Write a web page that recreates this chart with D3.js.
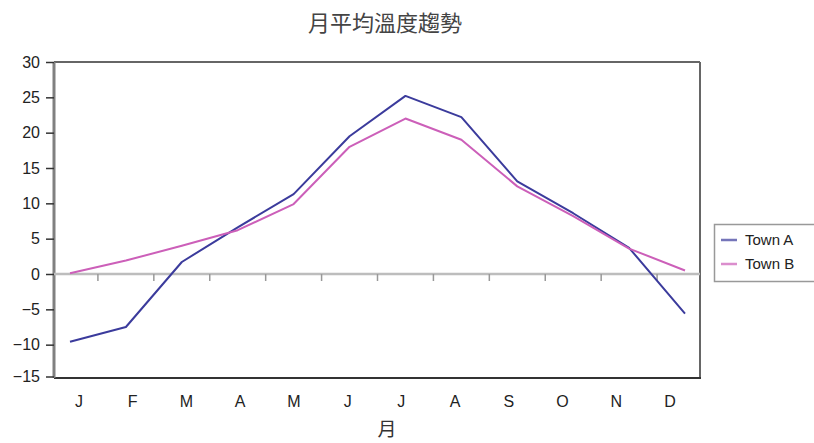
<!DOCTYPE html>
<html>
<head>
<meta charset="utf-8">
<script src="https://cdn.jsdelivr.net/npm/d3@7"></script>
<style>
  html, body { margin: 0; padding: 0; background: #fff; }
  svg { display: block; }
</style>
</head>
<body>
<svg id="chart" width="814" height="443"></svg>
<script>
const months = ["J","F","M","A","M","J","J","A","S","O","N","D"];
const monthKeys = ["Jan","Feb","Mar","Apr","May","Jun","Jul","Aug","Sep","Oct","Nov","Dec"];
const townA = [-9.6, -7.5, 1.7, 6.6, 11.3, 19.5, 25.2, 22.2, 13.1, 8.6, 3.7, -5.6];
const townB = [0.1, 1.9, 4.0, 6.2, 9.9, 18.0, 22.0, 19.0, 12.4, 8.2, 3.6, 0.5];
const yTicks = [30, 25, 20, 15, 10, 5, 0, -5, -10, -15];
const seriesNames = ["Town A", "Town B"];
const seriesColors = ["#3b3b9c", "#cc5fb9"];

const svg = d3.select("#chart");
const plotL = 54, plotR = 700, plotT = 62, plotB = 378;

const y = d3.scaleLinear().domain([-15, 30]).range([380, plotT]);
const x = d3.scalePoint().domain(monthKeys).range([70, 685]);
const xBand = d3.scaleBand().domain(monthKeys).range([42, 713]);
const xLabel = d3.scalePoint().domain(monthKeys).range([79, 670]);

// Title
svg.append("text")
  .attr("x", 385).attr("y", 31)
  .attr("text-anchor", "middle")
  .attr("font-family", "'Noto Sans CJK TC', 'Noto Sans CJK SC', sans-serif")
  .attr("font-size", 22)
  .attr("fill", "#444")
  .text("月平均溫度趨勢");

// Frame top & right
svg.append("line").attr("x1", plotL).attr("x2", plotR).attr("y1", plotT).attr("y2", plotT)
  .attr("stroke", "#333").attr("stroke-width", 1.5);
svg.append("line").attr("x1", plotR).attr("x2", plotR).attr("y1", plotT).attr("y2", plotB)
  .attr("stroke", "#666").attr("stroke-width", 2);
// bottom
svg.append("line").attr("x1", plotL).attr("x2", plotR + 1).attr("y1", plotB).attr("y2", plotB)
  .attr("stroke", "#333").attr("stroke-width", 2);

// Y axis
const yAxis = d3.axisLeft(y).tickValues(yTicks).tickSize(8).tickPadding(6).tickFormat(d3.format("d"));
const yg = svg.append("g").attr("transform", `translate(${plotL},0)`).call(yAxis);
yg.select(".domain").attr("stroke", "#808080").attr("stroke-width", 3)
  .attr("d", `M0,${plotT}V${plotB}`);
yg.selectAll(".tick line").attr("stroke", "#333").attr("stroke-width", 1.5);
yg.selectAll(".tick text")
  .attr("font-family", "'Liberation Sans', Arial, sans-serif")
  .attr("font-size", 16).attr("fill", "#222");
yg.selectAll(".tick").filter(d => d === -15).attr("transform", `translate(0,${plotB - 1})`);

// Zero line with category ticks
svg.append("line").attr("x1", plotL).attr("x2", plotR).attr("y1", y(0)).attr("y2", y(0))
  .attr("stroke", "#bdbdbd").attr("stroke-width", 2.5);
svg.append("g").selectAll("line")
  .data(monthKeys.slice(1))
  .join("line")
  .attr("x1", d => xBand(d)).attr("x2", d => xBand(d))
  .attr("y1", y(0)).attr("y2", y(0) + 7)
  .attr("stroke", "#999").attr("stroke-width", 1.5);

// X labels
svg.append("g").selectAll("text")
  .data(monthKeys)
  .join("text")
  .attr("x", d => xLabel(d)).attr("y", 407)
  .attr("text-anchor", "middle")
  .attr("font-family", "'Liberation Sans', Arial, sans-serif")
  .attr("font-size", 16).attr("fill", "#222")
  .text((d, i) => months[i]);

// X title
svg.append("text")
  .attr("x", 387).attr("y", 436)
  .attr("text-anchor", "middle")
  .attr("font-family", "'Noto Sans CJK TC', sans-serif")
  .attr("font-size", 19).attr("fill", "#333")
  .text("月");

// Lines
const line = d3.line().x((d, i) => x(monthKeys[i])).y(d => y(d));
[townA, townB].forEach((s, k) => {
  svg.append("path").datum(s)
    .attr("d", line)
    .attr("fill", "none")
    .attr("stroke", seriesColors[k])
    .attr("stroke-width", 2)
    .attr("stroke-linejoin", "round");
});

// Legend
const lg = svg.append("g");
lg.append("rect").attr("x", 714.5).attr("y", 224.5).attr("width", 105).attr("height", 57)
  .attr("fill", "#fff").attr("stroke", "#999").attr("stroke-width", 1.5);
seriesNames.forEach((n, k) => {
  const yy = 240 + k * 24;
  lg.append("line").attr("x1", 721).attr("x2", 737).attr("y1", yy).attr("y2", yy)
    .attr("stroke", seriesColors[k]).attr("stroke-width", 2.5).attr("opacity", 0.7);
  lg.append("text").attr("x", 745).attr("y", yy + 5)
    .attr("font-family", "'Liberation Sans', Arial, sans-serif")
    .attr("font-size", 15).attr("fill", "#222")
    .text(n);
});
</script>
</body>
</html>
